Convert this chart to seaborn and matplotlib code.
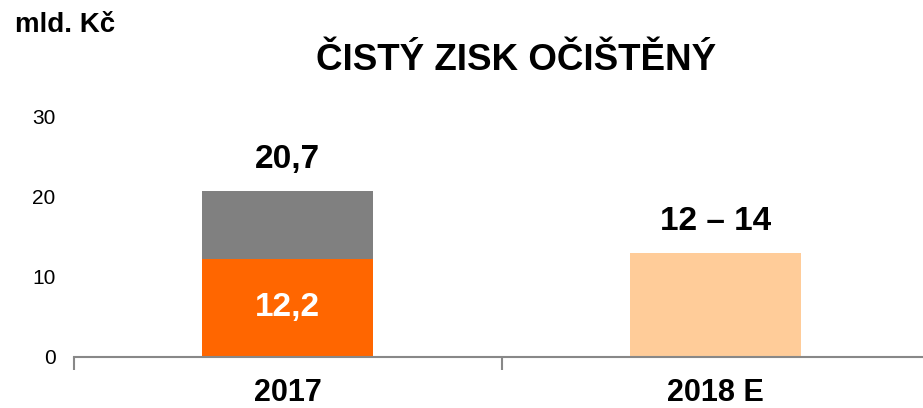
import matplotlib
matplotlib.use('Agg')
import matplotlib.pyplot as plt
import seaborn as sns
import pandas as pd

# chart data
years = ['2017', '2018 E']
totals = [20.7, 13.0]          # full bar height
base = [12.2, 0.0]             # orange lower segment (2017 only)
top_labels = ['20,7', '12 – 14']
base_labels = ['12,2', '']
y_ticks = [0, 10, 20, 30]

title = 'ČISTÝ ZISK OČIŠTĚNÝ'
unit = 'mld. Kč'

sns.set_theme(style='white')
plt.rcParams['font.family'] = ['Liberation Sans', 'DejaVu Sans']
plt.rcParams['text.color'] = 'black'

df = pd.DataFrame({'year': years, 'total': totals, 'base': base})

fig = plt.figure(figsize=(9.23, 4.08), dpi=100)
ax = fig.add_axes([73.5 / 923, 51 / 408, 856 / 923, 241 / 408])

sns.barplot(data=df, x='year', y='total', hue='year', palette=['#808080', '#FFCC99'],
            legend=False, width=0.4, saturation=1, linewidth=0, ax=ax)
sns.barplot(data=df, x='year', y='base', color='#FF6600', width=0.4, saturation=1,
            linewidth=0, ax=ax)

for i, (t, lbl) in enumerate(zip(totals, top_labels)):
    ax.annotate(lbl, (i, t), xytext=(0, 22.5), textcoords='offset points',
                ha='center', va='center', fontsize=24, fontweight='bold', color='black')
for i, (b, lbl) in enumerate(zip(base, base_labels)):
    if lbl:
        ax.text(i, b / 2, lbl, ha='center', va='center', fontsize=24,
                fontweight='bold', color='white')

ax.set_ylim(0, 30)
ax.set_xlim(-0.5, 1.5)
ax.set_yticks(y_ticks)
ax.tick_params(axis='y', length=0, labelsize=15, pad=13, labelcolor='black')
ax.tick_params(axis='x', which='major', length=0, labelsize=22, pad=15, labelcolor='black')
for lab in ax.get_xticklabels():
    lab.set_fontweight('bold')
ax.set_xticks([-0.5, 0.5, 1.5], minor=True)
ax.tick_params(axis='x', which='minor', bottom=True, length=9, width=1.5,
               color='#888888', direction='out')
ax.set_xlabel('')
ax.set_ylabel('')

for side in ['left', 'top', 'right']:
    ax.spines[side].set_visible(False)
ax.spines['bottom'].set_color('#888888')
ax.spines['bottom'].set_linewidth(1.5)
ax.spines['bottom'].set_zorder(5)

fig.text(516 / 923, 1 - 61 / 408, title, ha='center', va='center',
         fontsize=26.5, fontweight='bold', color='black')
fig.text(15 / 923, 1 - 25 / 408, unit, ha='left', va='center',
         fontsize=20, fontweight='bold', color='black')

fig.savefig('out.png', dpi=100)
